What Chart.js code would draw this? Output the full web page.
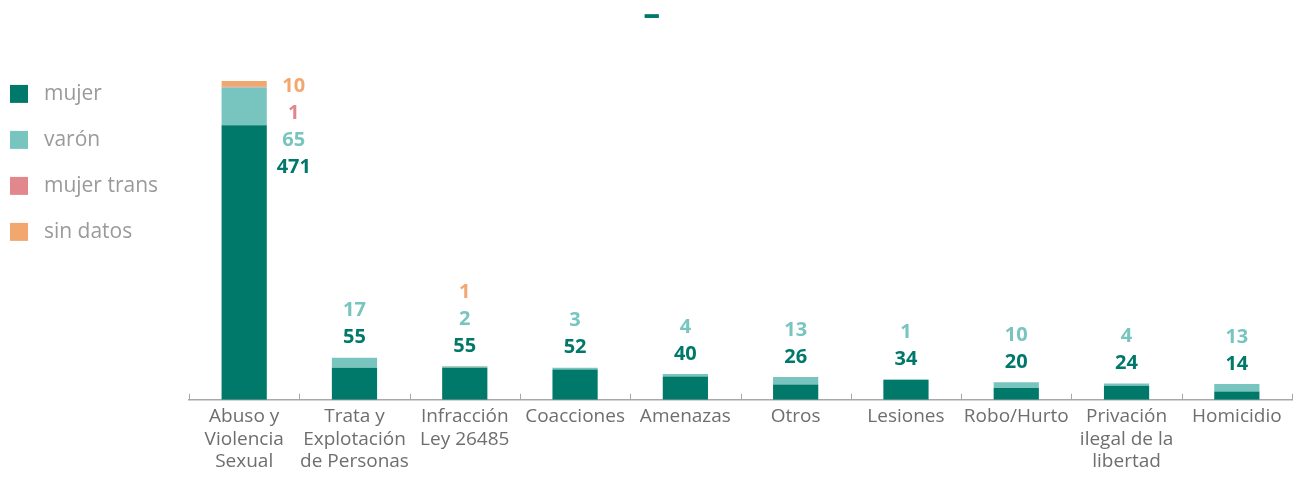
<!DOCTYPE html>
<html>
<head>
<meta charset="utf-8">
<script src="https://cdn.jsdelivr.net/npm/chart.js@4.4.0/dist/chart.umd.min.js"></script>
<style>
  html, body { margin: 0; padding: 0; background: #fff; overflow: hidden; }
  canvas { display: block; }
</style>
</head>
<body>
<canvas id="myChart" width="1294" height="479"></canvas>
<script>
// categorias (eje x)
const categorias = [
  ['Abuso y', 'Violencia', 'Sexual'],
  ['Trata y', 'Explotación', 'de Personas'],
  ['Infracción', 'Ley 26485'],
  'Coacciones',
  'Amenazas',
  'Otros',
  'Lesiones',
  'Robo/Hurto',
  ['Privación', 'ilegal de la', 'libertad'],
  'Homicidio'
];

// series
const mujer      = [471, 55, 55, 52, 40, 26, 34, 20, 24, 14];
const varon      = [65, 17, 2, 3, 4, 13, 1, 10, 4, 13];
const mujerTrans = [1, 0, 0, 0, 0, 0, 0, 0, 0, 0];
const sinDatos   = [10, 0, 1, 0, 0, 0, 0, 0, 0, 0];

const colores = ['#00786A', '#78C5C0', '#E2878B', '#F2A76F'];

// etiquetas de valores sobre las barras
const valueLabels = {
  id: 'valueLabels',
  afterDatasetsDraw(chart) {
    const ctx = chart.ctx;
    const y = chart.scales.y;
    ctx.save();
    ctx.font = 'bold 20px "Open Sans"';
    ctx.textAlign = 'center';
    ctx.textBaseline = 'middle';
    const bars = chart.getDatasetMeta(0).data;
    categorias.forEach((c, i) => {
      const bar = bars[i];
      let total = 0;
      chart.data.datasets.forEach(ds => total += ds.data[i]);
      const top = y.getPixelForValue(total);
      const beside = top < chart.chartArea.top + 100;
      let k = 0;
      chart.data.datasets.forEach((ds, d) => {
        const v = ds.data[i];
        if (!v) return;
        ctx.fillStyle = colores[d];
        if (beside) {
          // barra muy alta: etiquetas al costado
          const start = y.getPixelForValue(mujer[i]) + 42;
          ctx.fillText(v, bar.x + bar.width / 2 + 27, start - k * 27);
        } else {
          ctx.fillText(v, bar.x, top - 20 - k * 27);
        }
        k++;
      });
    });
    ctx.restore();
  },
  afterDraw(chart) {
    // marcas cortas sobre el eje entre categorias
    const ctx = chart.ctx;
    const x = chart.scales.x;
    const step = (x.right - x.left) / categorias.length;
    ctx.save();
    ctx.strokeStyle = '#a8a8a8';
    ctx.lineWidth = 1;
    for (let i = 0; i <= categorias.length; i++) {
      const px = Math.round(x.left + i * step) + 0.5;
      ctx.beginPath();
      ctx.moveTo(px, x.top - 6);
      ctx.lineTo(px, x.top);
      ctx.stroke();
    }
    ctx.restore();
  }
};

const ctx = document.getElementById('myChart');
const chart = new Chart(ctx, {
  type: 'bar',
  data: {
    labels: categorias,
    datasets: [
      { label: 'mujer', data: mujer, backgroundColor: colores[0] },
      { label: 'varón', data: varon, backgroundColor: colores[1] },
      { label: 'mujer trans', data: mujerTrans, backgroundColor: colores[2] },
      { label: 'sin datos', data: sinDatos, backgroundColor: colores[3] }
    ]
  },
  options: {
    responsive: false,
    animation: false,
    datasets: { bar: { barPercentage: 0.41, categoryPercentage: 1 } },
    layout: { padding: { left: -15, right: 2, top: 0, bottom: 0 } },
    plugins: {
      title: {
        display: true,
        text: '   –',
        color: '#00786A',
        font: { family: '"Open Sans"', size: 34, weight: 'bold' },
        padding: { top: -5, bottom: 5 }
      },
      legend: {
        position: 'left',
        align: 'start',
        title: { display: true, text: ' ', padding: { top: 44, bottom: 0 } },
        labels: {
          boxWidth: 18,
          boxHeight: 18,
          padding: 25,
          color: '#9a9a9a',
          font: { family: '"Open Sans"', size: 21 },
          generateLabels(chart) {
            return chart.data.datasets.map((ds, i) => ({
              text: ' ' + ds.label,
              fillStyle: colores[i],
              strokeStyle: colores[i],
              lineWidth: 0,
              fontColor: '#9a9a9a',
              datasetIndex: i
            }));
          }
        }
      },
      tooltip: { enabled: false }
    },
    scales: {
      x: {
        stacked: true,
        grid: { display: false, drawTicks: false },
        border: { color: '#a8a8a8', width: 1.5 },
        ticks: {
          color: '#6e6e6e',
          padding: 6,
          maxRotation: 0,
          autoSkip: false,
          font: { family: '"Open Sans"', size: 19, lineHeight: 1.18 }
        }
      },
      y: {
        stacked: true,
        min: 0,
        max: 616,
        grid: { display: false },
        border: { display: false },
        ticks: { display: false },
        afterFit(s) { s.width = 21; }
      }
    }
  },
  plugins: [valueLabels]
});
</script>
</body>
</html>
